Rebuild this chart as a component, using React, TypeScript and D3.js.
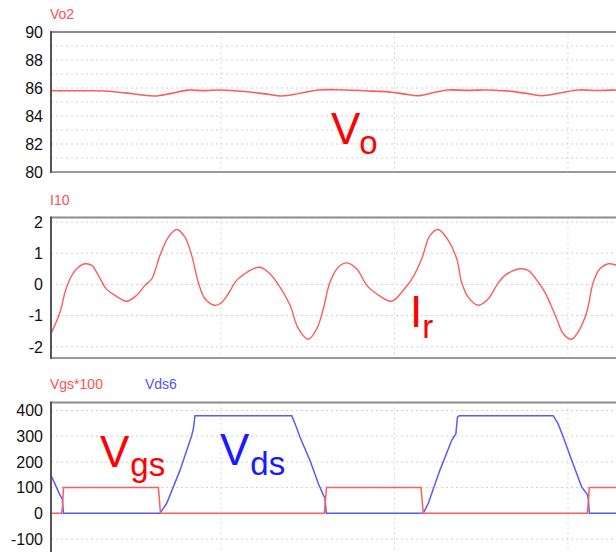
import React from "react";
import * as d3 from "d3";

// Time axis (arbitrary units, vertical grid every 10)
const TIME_DOMAIN: [number, number] = [0.2, 33.0];
const TIME_GRID = [10, 20, 30];

// Output voltage Vo2 (V)
const voT = [0.2, 1.87, 3.31, 4.47, 5.33, 6.2, 7.06, 8.1, 9.08, 9.94, 11.38, 12.54, 13.52, 14.55, 15.59, 17.15, 18.3, 19.86, 20.61, 21.35, 22.22, 23.08, 24.23, 25.39, 26.77, 27.81, 28.5, 29.54, 30.58, 31.73, 32.77, 33.0];
const voV = [85.8, 85.8, 85.79, 85.65, 85.52, 85.43, 85.6, 85.85, 85.81, 85.86, 85.75, 85.58, 85.43, 85.62, 85.86, 85.86, 85.8, 85.7, 85.56, 85.45, 85.66, 85.86, 85.83, 85.86, 85.76, 85.57, 85.45, 85.64, 85.86, 85.82, 85.86, 85.86];

// Resonant current I10 (A)
const irT = [0.2, 0.72, 1.01, 1.3, 1.68, 2.16, 2.55, 2.93, 3.41, 3.89, 4.56, 5.14, 5.62, 6.01, 6.48, 6.96, 7.45, 7.93, 8.31, 8.69, 9.08, 9.65, 10.04, 10.42, 10.9, 11.38, 11.67, 12.25, 12.82, 13.4, 13.98, 14.46, 15.03, 15.52, 15.9, 16.28, 16.76, 17.24, 17.82, 18.4, 18.97, 19.84, 20.51, 21.08, 21.57, 22.05, 22.52, 23.1, 23.59, 23.87, 24.25, 24.83, 25.41, 25.89, 26.37, 27.23, 27.71, 28.29, 28.67, 29.35, 29.73, 30.21, 30.59, 31.08, 31.46, 31.84, 32.32, 32.71, 33.0];
const irV = [-1.58, -0.89, -0.25, 0.18, 0.5, 0.66, 0.61, 0.29, -0.16, -0.35, -0.54, -0.35, -0.03, 0.18, 0.93, 1.51, 1.76, 1.51, 0.93, 0.07, -0.46, -0.67, -0.58, -0.3, 0.13, 0.34, 0.45, 0.55, 0.34, -0.09, -0.67, -1.42, -1.76, -1.42, -0.78, 0.07, 0.55, 0.69, 0.5, -0.03, -0.3, -0.54, -0.19, 0.24, 0.82, 1.57, 1.76, 1.41, 0.82, 0.07, -0.41, -0.67, -0.46, -0.03, 0.29, 0.5, 0.45, 0.07, -0.25, -1.1, -1.58, -1.76, -1.52, -0.89, 0.07, 0.5, 0.66, 0.63, 0.55];

// Gate drive Vgs*100 (V)
const vgsT = [0.2, 0.81, 0.86, 0.92, 6.39, 6.43, 6.51, 15.95, 15.99, 16.08, 21.53, 21.57, 21.66, 31.11, 31.15, 31.23, 33.0];
const vgsV = [0, 0, 25, 100, 100, 70, 0, 0, 25, 100, 100, 70, 0, 0, 25, 100, 100];

// Drain-source voltage Vds6 (V)
const vdsT = [0.2, 0.49, 0.72, 0.85, 0.92, 6.48, 6.87, 7.64, 8.31, 8.41, 8.5, 14.08, 14.32, 14.55, 15.12, 15.61, 15.9, 15.99, 16.07, 21.66, 21.95, 22.62, 23.3, 23.54, 23.63, 23.73, 29.15, 29.42, 29.73, 30.21, 30.79, 31.11, 31.18, 31.23, 33.0];
const vdsV = [148, 105, 71, 55, 0, 0, 39, 168, 303, 330, 380, 380, 340, 297, 207, 116, 71, 60, 0, 0, 39, 168, 284, 310, 374, 380, 380, 350, 297, 207, 103, 74, 55, 0, 0];

const VO_TICKS = [80, 82, 84, 86, 88, 90];
const VO_GRID = d3.range(80, 91, 1);
const IR_TICKS = [-2, -1, 0, 1, 2];
const V_TICKS = [-100, 0, 100, 200, 300, 400];

const W = 616;
const H = 552;
const LEFT = 51;
const RIGHT = 620;

const FONT = "'Liberation Sans', Arial, Helvetica, sans-serif";
const TRACE_RED = "#ff5c5c";
const TRACE_BLUE = "#5a5aff";
const TITLE_RED = "#ff5050";
const TITLE_BLUE = "#5050ff";

const x = d3.scaleLinear().domain(TIME_DOMAIN).range([LEFT, RIGHT]);

type PanelProps = {
  id: string;
  top: number;
  bottom: number;
  y: d3.ScaleLinear<number, number>;
  ticks: number[];
  grid: number[];
  children: React.ReactNode;
};

function Panel({ id, top, bottom, y, ticks, grid, children }: PanelProps) {
  return (
    <g>
      <defs>
        <clipPath id={`clip-${id}`}>
          <rect x={LEFT} y={top} width={RIGHT - LEFT} height={bottom - top} />
        </clipPath>
      </defs>
      {grid.map((g) => (
        <line
          key={`h${g}`}
          x1={LEFT}
          x2={RIGHT}
          y1={y(g)}
          y2={y(g)}
          stroke="#cfcfcf"
          strokeWidth={1}
          strokeDasharray="2,3"
        />
      ))}
      {TIME_GRID.map((t) => (
        <line
          key={`v${t}`}
          x1={x(t)}
          x2={x(t)}
          y1={top}
          y2={bottom}
          stroke="#dcdcc6"
          strokeWidth={1}
          strokeDasharray="2,3"
        />
      ))}
      <g clipPath={`url(#clip-${id})`}>{children}</g>
      <line x1={LEFT} x2={W} y1={top} y2={top} stroke="#8c8c8c" strokeWidth={2} />
      <line x1={LEFT} x2={W} y1={bottom} y2={bottom} stroke="#9a9a9a" strokeWidth={2} />
      <line x1={LEFT} x2={LEFT} y1={top - 1} y2={bottom + 1} stroke="#555" strokeWidth={2} />
      {ticks.map((t) => (
        <text
          key={`t${t}`}
          x={43}
          y={y(t)}
          dy="0.36em"
          textAnchor="end"
          fontFamily={FONT}
          fontSize={16}
          fill="#111"
        >
          {t}
        </text>
      ))}
    </g>
  );
}

function Label({ main, sub, x0, base, subDx, subDy, color }: { main: string; sub: string; x0: number; base: number; subDx: number; subDy: number; color: string }) {
  return (
    <text x={x0} y={base} fontFamily={FONT} fontSize={44} fill={color}>
      {main}
      <tspan dx={subDx} dy={subDy} fontSize={33}>
        {sub}
      </tspan>
    </text>
  );
}

export default function App() {
  const yVo = d3.scaleLinear().domain([80, 90]).range([172, 32]);
  const yIr = d3.scaleLinear().domain([-2, 2]).range([346.8, 222]);
  const yV = d3.scaleLinear().domain([0, 400]).range([513.3, 410.5]);

  const smooth = (ts: number[], vs: number[], ys: d3.ScaleLinear<number, number>) =>
    d3
      .line<number>()
      .x((_, i) => x(ts[i]))
      .y((v) => ys(v))
      .curve(d3.curveCatmullRom.alpha(0.5))(vs) ?? "";

  const straight = (ts: number[], vs: number[], ys: d3.ScaleLinear<number, number>) =>
    d3
      .line<number>()
      .x((_, i) => x(ts[i]))
      .y((v) => ys(v))(vs) ?? "";

  return (
    <svg
      width={W}
      height={H}
      viewBox={`0 0 ${W} ${H}`}
      style={{ position: "fixed", left: 0, top: 0, background: "#fff" }}
    >
      <rect width={W} height={H} fill="#fff" />

      {/* Output voltage */}
      <text x={50} y={19} fontFamily={FONT} fontSize={14} fill={TITLE_RED}>
        Vo2
      </text>
      <Panel id="vo" top={32} bottom={172} y={yVo} ticks={VO_TICKS} grid={VO_GRID}>
        <path d={smooth(voT, voV, yVo)} fill="none" stroke={TRACE_RED} strokeWidth={1.6} />
      </Panel>
      <Label main="V" sub="o" x0={331} base={144} subDx={-1} subDy={10} color="#ff0000" />

      {/* Resonant current */}
      <text x={50} y={205} fontFamily={FONT} fontSize={14} fill={TITLE_RED}>
        I10
      </text>
      <Panel id="ir" top={217.5} bottom={358} y={yIr} ticks={IR_TICKS} grid={IR_TICKS}>
        <path d={smooth(irT, irV, yIr)} fill="none" stroke={TRACE_RED} strokeWidth={1.4} />
      </Panel>
      <Label main="I" sub="r" x0={410} base={327} subDx={0} subDy={11} color="#ff0000" />

      {/* Switch voltages */}
      <text x={50} y={389} fontFamily={FONT} fontSize={14} fill={TITLE_RED}>
        Vgs*100
      </text>
      <text x={145} y={389} fontFamily={FONT} fontSize={14} fill={TITLE_BLUE}>
        Vds6
      </text>
      <Panel id="sw" top={402.5} bottom={553} y={yV} ticks={V_TICKS} grid={V_TICKS}>
        <path d={straight(vdsT, vdsV, yV)} fill="none" stroke={TRACE_BLUE} strokeWidth={1.5} />
        <path d={straight(vgsT, vgsV, yV)} fill="none" stroke={TRACE_RED} strokeWidth={1.5} />
      </Panel>
      <Label main="V" sub="gs" x0={100} base={467} subDx={1} subDy={9} color="#ff0000" />
      <Label main="V" sub="ds" x0={220} base={465} subDx={1} subDy={10} color="#1a1aff" />
    </svg>
  );
}
